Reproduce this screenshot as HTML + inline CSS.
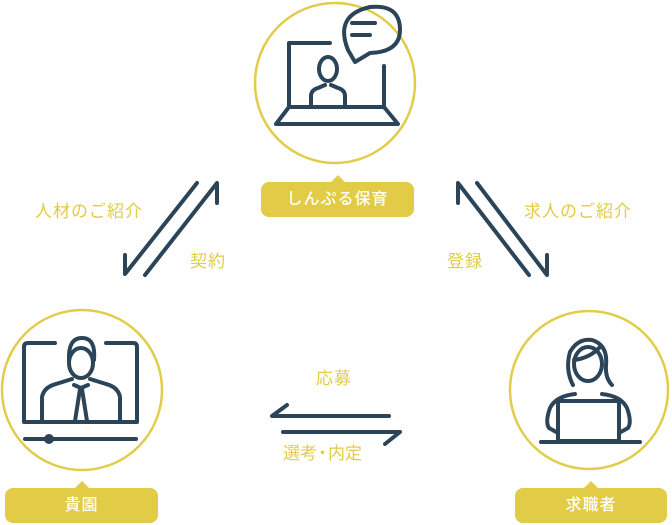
<!DOCTYPE html>
<html><head><meta charset="utf-8"><style>
html,body{margin:0;padding:0;background:#fff;}
body{width:672px;height:525px;position:relative;overflow:hidden;font-family:"Liberation Sans","Noto Sans CJK JP",sans-serif;}
.t{position:absolute;color:#e3cb45;font-size:17px;letter-spacing:1px;white-space:nowrap;line-height:20px;}
.p{position:absolute;background:#e2cb47;color:#fff;border-radius:8px;font-size:16px;font-weight:500;text-align:center;height:35px;line-height:35px;letter-spacing:1px;}
.p:before{content:"";position:absolute;left:50%;top:-7px;margin-left:-8px;border-left:8px solid transparent;border-right:8px solid transparent;border-bottom:8px solid #e2cb47;}
svg{position:absolute;left:0;top:0;}
</style></head><body>
<svg width="672" height="525" viewBox="0 0 672 525" fill="none" stroke-linecap="round" stroke-linejoin="round">
<g stroke="#e2cc4c" stroke-width="2.5">
<circle cx="335" cy="83" r="80"/>
<circle cx="82" cy="390" r="80"/>
<circle cx="589" cy="390" r="79"/>
</g>
<g stroke="#2b4458" stroke-width="4">
<path d="M330 43 H289 V107"/>
<path d="M384 66 V107"/>
<path d="M289 107 H384 L398 124 H276 Z"/>
<path d="M311 107 V96 Q311 90 318 88 L325 85 M345 107 V96 Q345 90 338 88 L331 85"/>
<ellipse cx="328" cy="69" rx="9" ry="12"/>
<path d="M348 50 Q334 15 370 7 Q400 4 400 30 Q400 52 370 53 L355 62 Z"/>
<path d="M352 23 H375 M352 35 H370"/>
<path d="M55 343 H28 Q24 343 24 347 V422 H137 V347 Q137 343 133 343 H106"/>
<path d="M42 422 V397 Q44 387 56 384 L72 379 M120 422 V397 Q118 387 106 384 L90 379"/>
<ellipse cx="81" cy="363" rx="12" ry="15"/>
<path d="M69 360 Q68 338 82 338 Q96 338 94 360"/>
<path d="M74 385 L81 388 L88 385 M80 389 L75 421 M82 389 L87 421"/>
<path d="M25 439 H136"/>
<circle cx="49" cy="439" r="3" fill="#2b4458"/>
<path d="M541 442 H640"/>
<rect x="558" y="401" width="61" height="40"/>
<path d="M558 433 L549 428 Q545 422 550 408 Q556 396 575 394 M619 433 L628 428 Q632 422 627 408 Q621 396 602 394"/>
<ellipse cx="588" cy="364" rx="14" ry="17"/>
<path d="M573 385 Q565 370 570 352 Q578 338 592 340 Q608 345 606 365 Q605 378 612 385 M574 360 Q590 358 600 347"/>
<path d="M125 255 V274 L197 183"/>
<path d="M145 275 L217 183 V203"/>
<path d="M458 203 V183 L529 275"/>
<path d="M477 183 L547 275 V255"/>
<path d="M287 405 L272 416 H389"/>
<path d="M283 432 H400 L385 444"/>
</g>
</svg>
<div class="t" style="left:35px;top:202px;">人材のご紹介</div>
<div class="t" style="left:190px;top:252px;">契約</div>
<div class="t" style="left:524px;top:202px;">求人のご紹介</div>
<div class="t" style="left:447px;top:252px;">登録</div>
<div class="t" style="left:316px;top:369px;">応募</div>
<div class="t" style="left:283px;top:444px;letter-spacing:0;">選考<span style="letter-spacing:-5px;margin-left:-3px;">・</span><span style="margin-left:2px;">内定</span></div>
<div class="p" style="left:261px;top:182px;width:153px;">しんぷる保育</div>
<div class="p" style="left:5px;top:488px;width:153px;">貴園</div>
<div class="p" style="left:515px;top:488px;width:152px;">求職者</div>
</body></html>
